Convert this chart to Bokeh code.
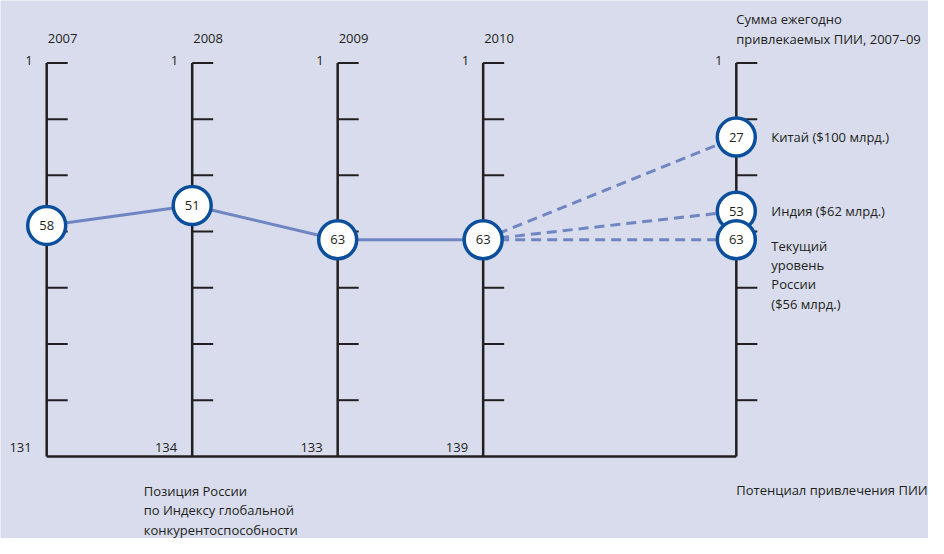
import numpy as np
from bokeh.plotting import figure
from bokeh.models import Range1d
from bokeh.core.properties import value
from bokeh.embed import file_html
from bokeh.resources import INLINE

# ---- data ----
years = ["2007", "2008", "2009", "2010"]
russia_rank = [58, 51, 63, 63]
bottom_labels = ["131", "134", "133", "139"]
potential_rank = [27, 53, 63]
china_label = "Китай ($100 млрд.)"
india_label = "Индия ($62 млрд.)"
russia_label = "Текущий\nуровень\nРоссии\n($56 млрд.)"
right_title = "Сумма ежегодно\nпривлекаемых ПИИ, 2007–09"
left_caption = "Позиция России\nпо Индексу глобальной\nконкурентоспособности"
right_caption = "Потенциал привлечения ПИИ"

# ---- layout ----
axis_x = [0.0, 1.0, 2.0, 3.0, 4.74]   # horizontal positions of the five axes
r_top, r_bot = 1, 139                # rank scale shared by every axis
FONT = value("Open Sans")
FS = "13px"
TXT = "#231f20"
LINE_C = "#6f86c2"
RING_C = "#0b4f9c"

X0, X1 = -0.3176, 6.061
Y0, Y1 = 167.8, -20.9
W, H = 928, 538
p = figure(width=W, height=H, output_backend="svg", toolbar_location=None,
           x_range=Range1d(X0, X1), y_range=Range1d(Y0, Y1),
           min_border=0, outline_line_color=None)
p.axis.visible = False
p.grid.visible = False
p.background_fill_color = "#d8dcec"
p.border_fill_color = "#d8dcec"

# background gradient (left -> lighter middle -> right)
nx = 256
t = np.linspace(0, 1, nx)
stops_t = [0.0, 0.42, 1.0]
cols = np.array([[0xd2, 0xd7, 0xea], [0xdf, 0xe2, 0xef], [0xc3, 0xc6, 0xe3]], dtype=float)
rgb = np.stack([np.interp(t, stops_t, cols[:, k]) for k in range(3)], axis=1)
img = np.empty((2, nx), dtype=np.uint32)
view = img.view(dtype=np.uint8).reshape((2, nx, 4))
for j in range(2):
    view[j, :, 0] = rgb[:, 0]
    view[j, :, 1] = rgb[:, 1]
    view[j, :, 2] = rgb[:, 2]
    view[j, :, 3] = 255
p.image_rgba(image=[img], x=X0, y=Y0, dw=X1 - X0, dh=Y0 - Y1)

# vertical axes
p.segment(x0=axis_x, y0=[r_top] * 5, x1=axis_x, y1=[r_bot] * 5, line_color=TXT, line_width=2.5)
# bottom baseline
p.segment(x0=[axis_x[0]], y0=[r_bot], x1=[axis_x[-1]], y1=[r_bot], line_color=TXT, line_width=2.5)
# ticks (7 equal intervals)
tick_r = np.linspace(r_top, r_bot, 8)[:-1]
tx, ty = [], []
for ax in axis_x:
    for r in tick_r:
        tx.append(ax)
        ty.append(r)
p.ray(x=tx, y=ty, length=21, length_units="screen", angle=0, line_color=TXT, line_width=2)

# solid line through the years
p.line(x=axis_x[:4], y=russia_rank, line_color=LINE_C, line_width=3)
# dashed lines to the potential axis
for r in potential_rank:
    p.line(x=[axis_x[3], axis_x[4]], y=[russia_rank[-1], r], line_color=LINE_C,
           line_width=3, line_dash="10 6")

# circles
cx = axis_x[:4] + [axis_x[4]] * len(potential_rank)
cy = russia_rank + potential_rank
ctext = [str(v) for v in cy]
p.scatter(x=cx, y=cy, size=38, fill_color="white", line_color=RING_C, line_width=3.5)
p.text(x=cx, y=cy, text=ctext, text_align="center", text_baseline="middle",
       text_font=FONT, text_font_size="13px", text_color=TXT)

common = dict(text_font=FONT, text_font_size=FS, text_color=TXT, text_line_height=1.08)

# year labels
p.text(x=axis_x[:4], y=[r_top] * 4, text=years, x_offset=1, y_offset=-24,
       text_align="left", text_baseline="middle", **common)
# "1" labels
p.text(x=axis_x, y=[r_top] * 5, text=["1"] * 5, x_offset=-14, y_offset=-2,
       text_align="right", text_baseline="middle", **common)
# bottom labels
p.text(x=axis_x[:4], y=[r_bot] * 4, text=bottom_labels, x_offset=-15, y_offset=-9,
       text_align="right", text_baseline="middle", **common)
# right title
p.text(x=[axis_x[4]], y=[r_top], text=[right_title], x_offset=0, y_offset=-34,
       text_align="left", text_baseline="middle", **common)
# potential labels
p.text(x=[axis_x[4]] * 2, y=potential_rank[:2], text=[china_label, india_label], x_offset=35,
       text_align="left", text_baseline="middle", **common)
p.text(x=[axis_x[4]], y=[potential_rank[2]], text=[russia_label], x_offset=35, y_offset=35,
       text_align="left", text_baseline="middle", **common)
# captions
p.text(x=[axis_x[1]], y=[r_bot], text=[left_caption], x_offset=-48.5, y_offset=54,
       text_align="left", text_baseline="middle", **common)
p.text(x=[axis_x[4]], y=[r_bot], text=[right_caption], x_offset=0, y_offset=34,
       text_align="left", text_baseline="middle", **common)

open("out.html", "w").write(file_html(p, INLINE))
